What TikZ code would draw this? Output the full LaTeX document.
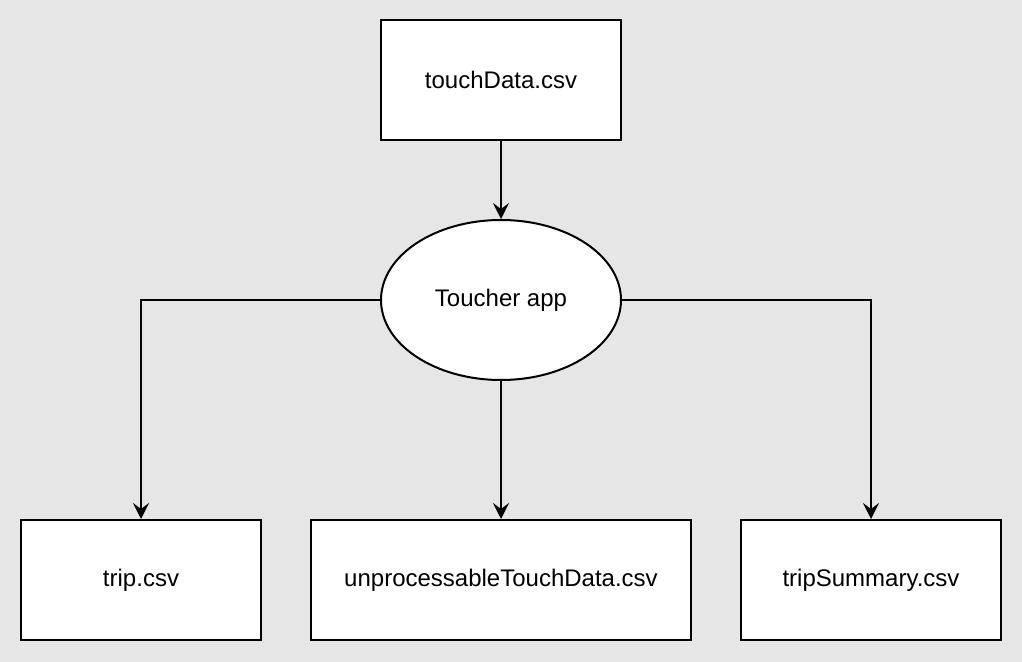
\documentclass[tikz,border=0pt]{standalone}
\usepackage{fontspec}
\setmainfont{Liberation Sans}
\usetikzlibrary{arrows.meta,shapes.geometric}
\definecolor{canvas}{HTML}{E6E6E6}
\tikzset{
	filebox/.style={draw, fill=white, line width=1pt, minimum height=60pt, inner sep=0pt, font=\fontsize{12}{14}\selectfont},
	appnode/.style={ellipse, draw, fill=white, line width=1pt, minimum width=120pt, minimum height=80pt, inner sep=0pt, font=\fontsize{12}{14}\selectfont},
	flow/.style={line width=1pt, -{Stealth[length=8pt, width=8pt, inset=3pt]}}
}
\begin{document}
\begin{tikzpicture}[x=0.5pt, y=-0.5pt]
		% canvas
		\fill[canvas] (0, 0) rectangle (1022, 662);
		\useasboundingbox (0, 0) rectangle (1022, 662);
		
		\node[filebox, minimum width=120pt] (touch) at (501, 80) {touchData.csv};
		\node[appnode] (app) at (501, 300) {Toucher app};
		
		% outputs
		\node[filebox, minimum width=120pt] (trip) at (141, 580) {trip.csv};
		\node[filebox, minimum width=190pt] (unproc) at (501, 580) {unprocessableTouchData.csv};
		\node[filebox, minimum width=130pt] (summary) at (871, 580) {tripSummary.csv};
		
		\draw[flow] (touch) -- (app);
		\draw[flow] (app.west) -| (trip.north);
		\draw[flow] (app) -- (unproc);
		\draw[flow] (app.east) -| (summary.north);
		\end{tikzpicture}
\end{document}
